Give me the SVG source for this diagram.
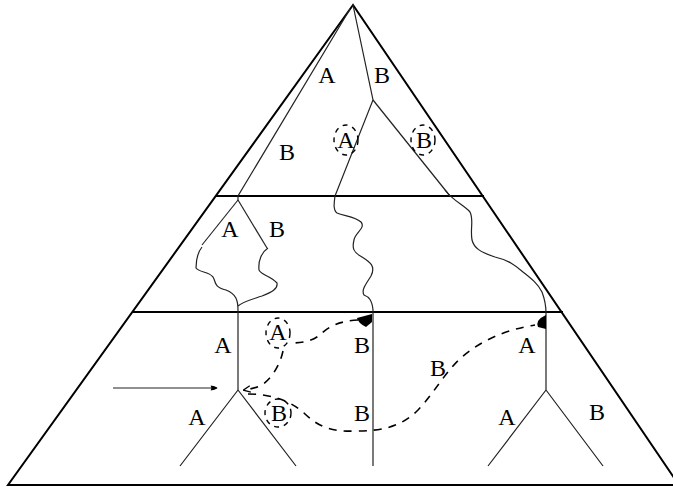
<svg xmlns="http://www.w3.org/2000/svg" width="673" height="487" viewBox="0 0 673 487">
<style>
.frame{fill:none;stroke:#000;stroke-width:2}
.ln{fill:none;stroke:#222;stroke-width:1.2}
.dash{fill:none;stroke:#000;stroke-width:1.6;stroke-dasharray:8,7}
.circ{fill:none;stroke:#000;stroke-width:1.4;stroke-dasharray:5,5}
text{font-family:"Liberation Serif","Times New Roman",serif;font-size:24px;text-anchor:middle;fill:#000}
</style>
<defs>
<marker id="ah" viewBox="0 0 10 10" refX="9" refY="5" markerWidth="11" markerHeight="7" markerUnits="userSpaceOnUse" orient="auto">
<path d="M0,1.5 Q6,2 10,5 Q6,8 0,8.5 Q2,5 0,1.5 Z" fill="#000"/>
</marker>
<marker id="ah2" viewBox="0 0 10 10" refX="9" refY="5" markerWidth="8" markerHeight="8" markerUnits="userSpaceOnUse" orient="auto">
<path d="M1,1 L10,5 L1,9" fill="none" stroke="#000" stroke-width="1.5"/>
</marker>
</defs>
<rect width="673" height="487" fill="#fff"/>
<g id="frame">
<path class="frame" d="M353,5 L8,485 L679,485 Z"/>
<line class="frame" x1="216" y1="196" x2="484" y2="196"/>
<line class="frame" x1="133" y1="312" x2="563" y2="312"/>
</g>
<g id="connectors">
<path class="ln" d="M350,9 L238,196 L238,200"/>
<path class="ln" d="M353,5 L373,100 L335,196"/>
<path class="ln" d="M373,100 L450,196"/>
<path class="ln" d="M238,200 L202,245"/>
<path class="ln" d="M238,200 L267,248"/>
<path class="ln" d="M202,247 C198,252 196,258 196,268 C200,273 208,271 213,277 C216,281 213,287 226,290 C236,294 238,300 238,310 L238,390"/>
<path class="ln" d="M268,248 C262,252 258,260 259,270 C262,276 270,275 277,283 C278,289 272,292 262,296 C250,300 242,302 238,306"/>
<path class="ln" d="M335,196 C334,203 333,210 337,213 C345,216 356,217 361,222 C366,228 355,233 354,240 C352,248 353,252 362,257 C370,262 376,266 371,276 C366,284 361,290 364,295 C369,297 372,300 373,310 L373,466"/>
<path class="ln" d="M445,190 C452,200 465,206 470,212 C474,220 470,228 472,240 C474,248 480,252 495,257 C508,260 515,265 523,272 C532,279 538,284 542,292 C545,300 546,305 546,313 L546,390"/>
<path class="ln" d="M238,390 L180,466 M238,390 L296,466"/>
<path class="ln" d="M546,390 L488,466 M546,390 L603,466"/>
<line class="ln" x1="113" y1="388" x2="217" y2="388" marker-end="url(#ah)"/>
<path class="dash" d="M358,320 C340,321 330,326 322,333 C315,340 305,343 291,343"/>
<path class="dash" d="M283,351 C280,365 272,378 262,385 C256,388 250,389 244,390" marker-end="url(#ah2)"/>
<path class="dash" d="M248,394 C270,394 290,400 305,414 C318,426 330,432 355,431 C380,431 400,428 418,410 C435,392 445,372 462,357 C482,340 505,330 535,325"/>
<path d="M372,314 L372,322 L366,327 Q358,323 357,318 Z" fill="#000"/>
<path d="M546,315 L546,329 L538,327 Q535,320 546,315 Z" fill="#000"/>
</g>
<g id="labels-top">
<text x="327" y="83">A</text>
<text x="382" y="83">B</text>
<text x="287" y="160">B</text>
<text x="346" y="148">A</text>
<ellipse class="circ" cx="346" cy="140" rx="12" ry="15"/>
<text x="424" y="148">B</text>
<ellipse class="circ" cx="423" cy="140" rx="12" ry="15"/>
</g>
<g id="labels-mid">
<text x="230" y="237">A</text>
<text x="277" y="237">B</text>
</g>
<g id="labels-bottom">
<text x="223" y="353">A</text>
<text x="278" y="340">A</text>
<ellipse class="circ" cx="278" cy="333" rx="12" ry="15"/>
<text x="362" y="353">B</text>
<text x="197" y="425">A</text>
<text x="279" y="421">B</text>
<ellipse class="circ" cx="278" cy="413" rx="13" ry="14"/>
<text x="362" y="421">B</text>
<text x="527" y="353">A</text>
<text x="438" y="376">B</text>
<text x="507" y="425">A</text>
<text x="597" y="420">B</text>
</g>
</svg>
